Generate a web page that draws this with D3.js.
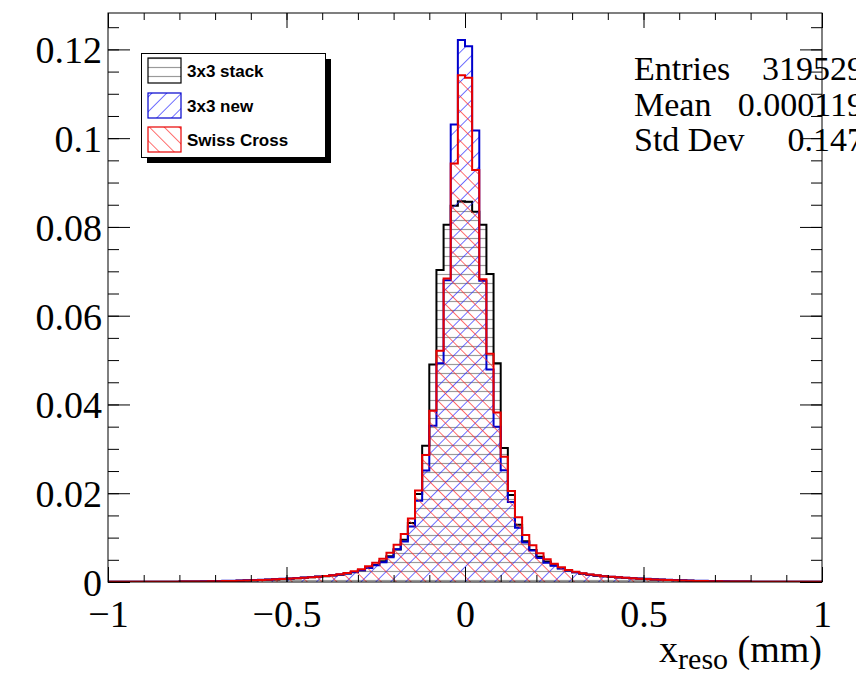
<!DOCTYPE html>
<html>
<head>
<meta charset="utf-8">
<script src="https://cdn.jsdelivr.net/npm/d3@7"></script>
<style>
  body { margin: 0; background: #fff; }
  svg { display: block; }
</style>
</head>
<body>
<svg id="chart" width="856" height="675"></svg>
<script>
// Histogram binning: 100 bins of width 0.02 over [-1, 1]
const xMin = -1, xMax = 1, nBins = 100;
const yMax = 0.1282;

// Normalised bin contents, left to right (bin centres -0.99 ... 0.99)
const stack3x3 = [
  0.00004,0.00004,0.00005,0.00005,0.00005,0.00006,0.00006,0.00007,0.00007,0.00008,
  0.00009,0.00010,0.00011,0.00013,0.00015,0.00018,0.00021,0.00025,0.00029,0.00034,
  0.00039,0.00045,0.00052,0.00059,0.00067,0.00076,0.00085,0.00095,0.00106,0.00118,
  0.00131,0.00147,0.00166,0.00190,0.00222,0.00262,0.00315,0.00385,0.00470,0.00580,
  0.00735,0.00950,0.01330,0.01980,0.03070,0.04900,0.07030,0.08050,0.08480,0.08580,
  0.08570,0.08340,0.08050,0.06940,0.04930,0.03020,0.01960,0.01290,0.00920,0.00720,
  0.00570,0.00460,0.00378,0.00310,0.00258,0.00218,0.00186,0.00162,0.00143,0.00128,
  0.00115,0.00103,0.00092,0.00082,0.00074,0.00066,0.00058,0.00051,0.00045,0.00039,
  0.00034,0.00029,0.00025,0.00021,0.00018,0.00015,0.00013,0.00011,0.00010,0.00009,
  0.00008,0.00007,0.00007,0.00006,0.00006,0.00005,0.00005,0.00005,0.00004,0.00004
];
const new3x3 = [
  0.00004,0.00004,0.00005,0.00005,0.00005,0.00006,0.00006,0.00007,0.00007,0.00008,
  0.00010,0.00012,0.00014,0.00016,0.00019,0.00022,0.00026,0.00030,0.00035,0.00040,
  0.00045,0.00051,0.00058,0.00065,0.00073,0.00081,0.00090,0.00100,0.00110,0.00122,
  0.00135,0.00150,0.00168,0.00192,0.00224,0.00266,0.00315,0.00375,0.00445,0.00555,
  0.00740,0.00910,0.01250,0.01830,0.02510,0.03520,0.04930,0.06800,0.10310,0.12210,
  0.12070,0.10170,0.06790,0.04790,0.03500,0.02520,0.01800,0.01220,0.00890,0.00710,
  0.00540,0.00435,0.00365,0.00305,0.00258,0.00220,0.00190,0.00166,0.00147,0.00131,
  0.00118,0.00106,0.00096,0.00087,0.00079,0.00071,0.00064,0.00057,0.00051,0.00045,
  0.00040,0.00035,0.00030,0.00026,0.00022,0.00019,0.00016,0.00014,0.00012,0.00010,
  0.00008,0.00007,0.00007,0.00006,0.00006,0.00005,0.00005,0.00005,0.00004,0.00004
];
const swissCross = [
  0.00004,0.00004,0.00005,0.00005,0.00005,0.00006,0.00006,0.00007,0.00007,0.00008,
  0.00009,0.00010,0.00011,0.00013,0.00015,0.00018,0.00021,0.00025,0.00030,0.00035,
  0.00040,0.00046,0.00053,0.00060,0.00068,0.00077,0.00087,0.00097,0.00108,0.00121,
  0.00135,0.00152,0.00174,0.00202,0.00240,0.00290,0.00355,0.00435,0.00525,0.00660,
  0.00840,0.01080,0.01430,0.02060,0.02860,0.03860,0.05210,0.06840,0.09430,0.11420,
  0.11360,0.09280,0.06820,0.05140,0.03820,0.02820,0.02050,0.01460,0.01060,0.00830,
  0.00650,0.00510,0.00410,0.00330,0.00272,0.00230,0.00198,0.00170,0.00150,0.00132,
  0.00118,0.00105,0.00094,0.00084,0.00075,0.00067,0.00059,0.00052,0.00045,0.00039,
  0.00034,0.00029,0.00025,0.00021,0.00018,0.00015,0.00013,0.00011,0.00010,0.00009,
  0.00008,0.00007,0.00007,0.00006,0.00006,0.00005,0.00005,0.00005,0.00004,0.00004
];

const seriesNames = ["3x3 stack", "3x3 new", "Swiss Cross"];
const xMajorTicks = [-1, -0.5, 0, 0.5, 1];
const xTickLabels = ["\u22121", "\u22120.5", "0", "0.5", "1"];
const yMajorTicks = [0, 0.02, 0.04, 0.06, 0.08, 0.1, 0.12];
const yTickLabels = ["0", "0.02", "0.04", "0.06", "0.08", "0.1", "0.12"];
const statsLabels = ["Entries", "Mean", "Std Dev"];
const statsValues = ["319529", "0.000119", "0.147"];

// Frame geometry
const frame = { left: 108, right: 822, top: 13, bottom: 582 };
const serif = "'Liberation Serif', 'Times New Roman', serif";
const svg = d3.select("#chart");

const x = d3.scaleLinear().domain([xMin, xMax]).range([frame.left, frame.right]);
const y = d3.scaleLinear().domain([0, yMax]).range([frame.bottom, frame.top]);

// Hatch patterns (line centred in the tile so it is not clipped in half)
const defs = svg.append("defs");
function hatch(id, angle, spacing, color, width, opacity) {
  const p = defs.append("pattern")
    .attr("id", id)
    .attr("patternUnits", "userSpaceOnUse")
    .attr("width", spacing).attr("height", spacing)
    .attr("patternTransform", `rotate(${angle})`);
  p.append("line")
    .attr("x1", spacing / 2).attr("y1", -1).attr("x2", spacing / 2).attr("y2", spacing + 1)
    .attr("stroke", color).attr("stroke-width", width).attr("stroke-opacity", opacity);
}
hatch("hatch-stack", 90, 9, "#9a9a9a", 1.2, 1);      // horizontal lines
hatch("hatch-new", 45, 10.5, "#2a2aff", 1, 0.7);     // "/" lines
hatch("hatch-swiss", -45, 10.5, "#ff2a2a", 1, 0.7);  // "\" lines

const styles = [
  { data: stack3x3, stroke: "#000000", fill: "url(#hatch-stack)" },
  { data: new3x3,   stroke: "#0000cc", fill: "url(#hatch-new)" },
  { data: swissCross, stroke: "#e80000", fill: "url(#hatch-swiss)" }
];

svg.append("clipPath").attr("id", "frame-clip")
  .append("rect")
  .attr("x", frame.left).attr("y", frame.top)
  .attr("width", frame.right - frame.left).attr("height", frame.bottom - frame.top);

const plot = svg.append("g").attr("clip-path", "url(#frame-clip)");

const binW = (xMax - xMin) / nBins;
function stepPoints(values) {
  const pts = [[xMin, 0]];
  values.forEach((v, i) => {
    const x0 = xMin + i * binW, x1 = x0 + binW;
    pts.push([x0, v], [x1, v]);
  });
  pts.push([xMax, 0]);
  return pts;
}
const line = d3.line().x(d => x(d[0])).y(d => y(d[1]));

styles.forEach(s => {
  const pts = stepPoints(s.data);
  plot.append("path")
    .attr("d", line(pts) + "Z")
    .attr("fill", s.fill)
    .attr("stroke", "none");
  plot.append("path")
    .attr("d", line(pts))
    .attr("fill", "none")
    .attr("stroke", s.stroke)
    .attr("stroke-width", 2)
    .attr("stroke-linejoin", "miter");
});

// Frame
svg.append("rect")
  .attr("x", frame.left).attr("y", frame.top)
  .attr("width", frame.right - frame.left).attr("height", frame.bottom - frame.top)
  .attr("fill", "none").attr("stroke", "#000").attr("stroke-width", 1);

const xMinor = d3.range(-10, 11).map(i => i / 10);
const yMinor = d3.range(0, 26).map(i => i * 0.005);

function styleAxis(g) {
  g.select(".domain").remove();
  g.selectAll(".tick line").attr("stroke", "#000").attr("stroke-width", 1);
}

// Bottom axis
svg.append("g").attr("transform", `translate(0,${frame.bottom})`)
  .call(d3.axisBottom(x).tickValues(xMinor).tickSize(-7).tickFormat(""))
  .call(styleAxis);
svg.append("g").attr("transform", `translate(0,${frame.bottom})`)
  .call(d3.axisBottom(x).tickValues(xMajorTicks).tickSize(-15).tickPadding(18)
    .tickFormat((d, i) => xTickLabels[i]))
  .call(styleAxis)
  .call(g => g.selectAll("text")
    .attr("font-family", serif)
    .attr("font-size", 38).attr("fill", "#000").attr("dy", "0.7em"));

// Top axis (ticks only)
svg.append("g").attr("transform", `translate(0,${frame.top})`)
  .call(d3.axisTop(x).tickValues(xMinor).tickSize(-7).tickFormat(""))
  .call(styleAxis);
svg.append("g").attr("transform", `translate(0,${frame.top})`)
  .call(d3.axisTop(x).tickValues(xMajorTicks).tickSize(-15).tickFormat(""))
  .call(styleAxis);

// Left axis
svg.append("g").attr("transform", `translate(${frame.left},0)`)
  .call(d3.axisLeft(y).tickValues(yMinor).tickSize(-11).tickFormat(""))
  .call(styleAxis);
svg.append("g").attr("transform", `translate(${frame.left},0)`)
  .call(d3.axisLeft(y).tickValues(yMajorTicks).tickSize(-22).tickPadding(6)
    .tickFormat((d, i) => yTickLabels[i]))
  .call(styleAxis)
  .call(g => g.selectAll("text")
    .attr("font-family", serif)
    .attr("font-size", 38).attr("fill", "#000").attr("dy", "0.35em"));

// Right axis (ticks only)
svg.append("g").attr("transform", `translate(${frame.right},0)`)
  .call(d3.axisRight(y).tickValues(yMinor).tickSize(-11).tickFormat(""))
  .call(styleAxis);
svg.append("g").attr("transform", `translate(${frame.right},0)`)
  .call(d3.axisRight(y).tickValues(yMajorTicks).tickSize(-22).tickFormat(""))
  .call(styleAxis);

// Axis title: x_reso (mm)
const title = svg.append("text")
  .attr("x", frame.right).attr("y", 662)
  .attr("text-anchor", "end")
  .attr("font-family", serif)
  .attr("font-size", 38).attr("fill", "#000");
title.append("tspan").text("x");
title.append("tspan").attr("dy", 7).attr("font-size", 30).text("reso");
title.append("tspan").attr("dy", -7).text(" (mm)");

// Statistics box
const stats = svg.append("g")
  .attr("font-family", serif)
  .attr("font-size", 34).attr("fill", "#000");
statsLabels.forEach((lab, i) => {
  const by = 80 + i * 35.5;
  stats.append("text").attr("x", 634).attr("y", by).text(lab);
  stats.append("text").attr("x", 864).attr("y", by).attr("text-anchor", "end").text(statsValues[i]);
});

// Legend
const legend = svg.append("g");
legend.append("rect")
  .attr("x", 147).attr("y", 59).attr("width", 184).attr("height", 104)
  .attr("fill", "#000");
legend.append("rect")
  .attr("x", 141.5).attr("y", 53.5).attr("width", 184).attr("height", 104)
  .attr("fill", "#fff").attr("stroke", "#000").attr("stroke-width", 1);
const entryY = [58, 93, 127];
seriesNames.forEach((name, i) => {
  legend.append("rect")
    .attr("x", 148).attr("y", entryY[i]).attr("width", 33).attr("height", 25)
    .attr("fill", styles[i].fill).attr("stroke", styles[i].stroke).attr("stroke-width", 1.2);
  legend.append("text")
    .attr("x", 187).attr("y", entryY[i] + 18.5)
    .attr("font-family", "'Liberation Sans', Arial, Helvetica, sans-serif")
    .attr("font-weight", "bold").attr("font-size", 17).attr("fill", "#000")
    .text(name);
});
</script>
</body>
</html>
